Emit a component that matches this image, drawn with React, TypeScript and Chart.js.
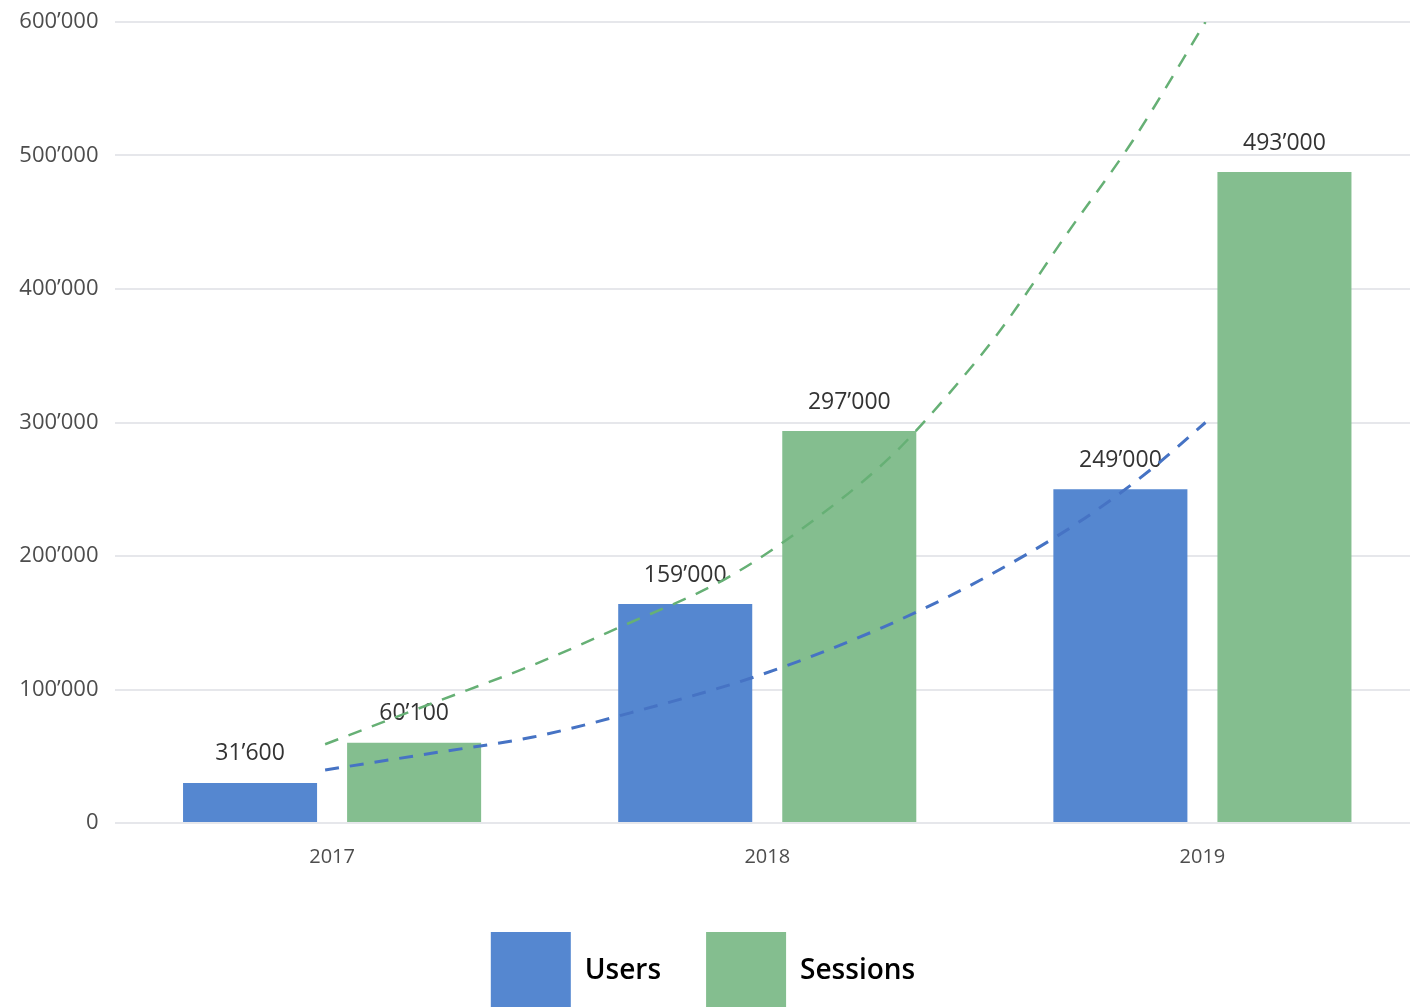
import React, { useEffect, useRef } from 'react';
import { Chart, registerables } from 'chart.js';

Chart.register(...registerables);

const years = ['2017', '2018', '2019'];
const usersValues = [30000, 164000, 250000];
const sessionsValues = [60100, 293600, 487600];
const usersLabels = ['31’600', '159’000', '249’000'];
const sessionsLabels = ['60’100', '297’000', '493’000'];

// trend lines (x in year-index units: 0 = 2017, 2 = 2019)
const usersTrendX = [-0.016, 0.232, 0.462, 0.692, 0.984, 1.267, 1.49, 1.713, 1.88, 2.007];
const usersTrendY = [39700, 52400, 64400, 83100, 110900, 146800, 182000, 224700, 264400, 300000];
const sessionsTrendX = [-0.016, 0.232, 0.462, 0.662, 0.899, 1.076, 1.283, 1.405, 1.536, 1.69, 1.841, 2.007];
const sessionsTrendY = [59000, 89900, 118400, 146800, 182000, 219500, 274200, 316900, 369300, 442000, 511600, 600000];

const yMax = 600000;
const yStep = 100000;

const USERS_COLOR = '#5587d0';
const SESSIONS_COLOR = '#84be8f';
const USERS_TREND = '#4673c4';
const SESSIONS_TREND = '#66b075';
const FONT = '"Open Sans", "DejaVu Sans", sans-serif';

const fmt = (n: number) => Math.round(n).toString().replace(/\B(?=(\d{3})+(?!\d))/g, '’');

const barLabelPlugin = {
  id: 'barLabels',
  afterDatasetDraw(chart: any, args: any) {
    const labels = args.index === 0 ? usersLabels : args.index === 1 ? sessionsLabels : null;
    if (!labels) return;
    const ctx = chart.ctx;
    ctx.save();
    ctx.font = `23px ${FONT}`;
    ctx.fillStyle = '#333333';
    ctx.textAlign = 'center';
    ctx.textBaseline = 'middle';
    args.meta.data.forEach((el: any, i: number) => {
      ctx.fillText(labels[i], el.x, el.y - 29);
    });
    ctx.restore();
  },
};

export default function App() {
  const ref = useRef<HTMLCanvasElement | null>(null);
  useEffect(() => {
    if (!ref.current) return;
    const chart = new Chart(ref.current, {
      type: 'bar',
      data: {
        datasets: [
          {
            type: 'bar',
            label: 'Users',
            data: usersValues.map((y, i) => ({ x: i, y })),
            backgroundColor: USERS_COLOR,
            borderWidth: 0,
            categoryPercentage: 0.754,
            barPercentage: 0.817,
            order: 2,
          },
          {
            type: 'bar',
            label: 'Sessions',
            data: sessionsValues.map((y, i) => ({ x: i, y })),
            backgroundColor: SESSIONS_COLOR,
            borderWidth: 0,
            categoryPercentage: 0.754,
            barPercentage: 0.817,
            order: 2,
          },
          {
            type: 'line',
            label: 'Users trend',
            data: usersTrendX.map((x, i) => ({ x, y: usersTrendY[i] })),
            borderColor: USERS_TREND,
            borderWidth: 3,
            borderDash: [14, 11],
            pointRadius: 0,
            cubicInterpolationMode: 'monotone',
            fill: false,
            order: 1,
          },
          {
            type: 'line',
            label: 'Sessions trend',
            data: sessionsTrendX.map((x, i) => ({ x, y: sessionsTrendY[i] })),
            borderColor: SESSIONS_TREND,
            borderWidth: 2.5,
            borderDash: [14, 11],
            pointRadius: 0,
            cubicInterpolationMode: 'monotone',
            fill: false,
            order: 1,
          },
        ] as any,
      },
      options: {
        responsive: false,
        animation: false,
        parsing: true,
        layout: { padding: { top: 22, left: -14, right: 0, bottom: 0 } },
        scales: {
          x: {
            type: 'linear',
            min: -0.5,
            max: 2.5,
            offset: false,
            grid: { display: false, offset: false },
            border: { display: false },
            afterBuildTicks: (s: any) => { s.ticks = years.map((_, i) => ({ value: i })); },
            ticks: {
              color: '#4d4d4d',
              font: { family: FONT, size: 20 },
              padding: 14,
              maxRotation: 0,
              autoSkip: false,
              callback: (v: any) => years[Math.round(Number(v))] ?? '',
            },
            afterFit: (s: any) => { s.height = 64; },
          },
          y: {
            min: 0,
            max: yMax,
            border: { display: false },
            grid: { color: '#e6e7eb', lineWidth: 2, drawTicks: false },
            ticks: {
              stepSize: yStep,
              color: '#4d4d4d',
              font: { family: FONT, size: 22 },
              padding: 16,
              callback: (v: any) => fmt(Number(v)),
            },
            afterFit: (s: any) => { s.width = 128.5; s.paddingTop = 0; s.paddingBottom = 0; },
          },
        } as any,
        plugins: {
          legend: {
            position: 'bottom',
            labels: {
              boxWidth: 80,
              boxHeight: 78,
              padding: 45,
              color: '#000000',
              font: { family: FONT, size: 28, weight: '600' },
              filter: (item: any) => item.datasetIndex < 2,
            },
          },
          tooltip: { enabled: false },
        },
      } as any,
      plugins: [barLabelPlugin],
    });
    return () => chart.destroy();
  }, []);

  return (
    <div style={{ position: 'fixed', left: 0, top: 0, width: 1410, height: 1007, overflow: 'hidden', background: '#ffffff' }}>
      <canvas ref={ref} width={1420} height={1020} style={{ width: 1420, height: 1020, display: 'block' }} />
    </div>
  );
}
